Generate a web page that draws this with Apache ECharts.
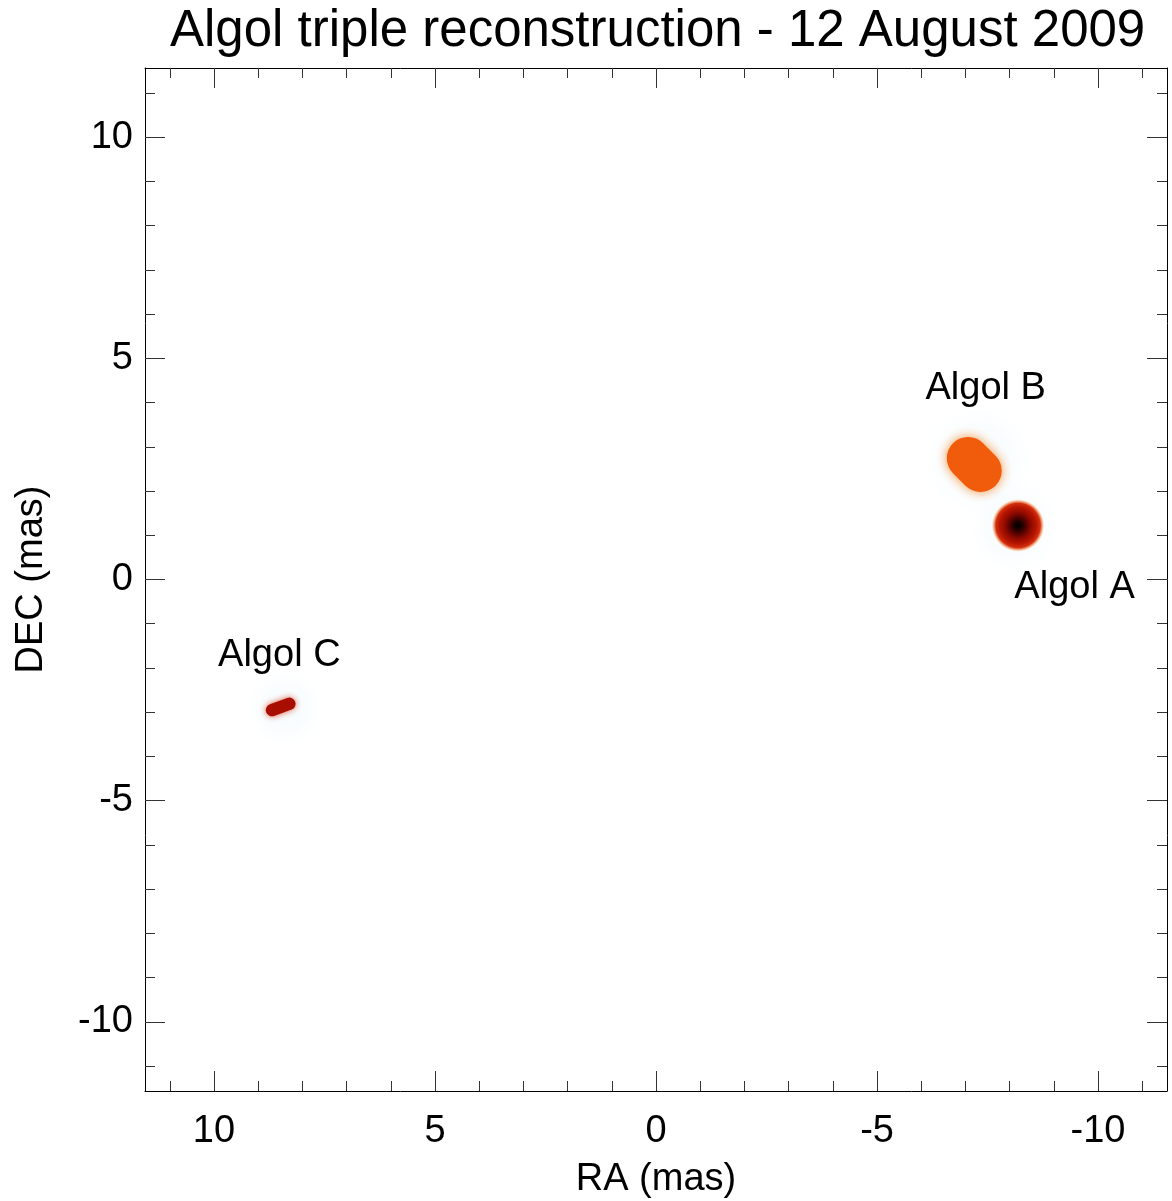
<!DOCTYPE html>
<html>
<head>
<meta charset="utf-8">
<title>Algol triple reconstruction</title>
<script src="https://cdn.jsdelivr.net/npm/echarts@6/dist/echarts.min.js"></script>
<style>
  html, body { margin: 0; padding: 0; background: #fff; }
  #main { width: 1172px; height: 1201px; }
</style>
</head>
<body>
<div id="main"></div>
<script>
// axis range (mas) and ticks
const range = 11.56
const majorTicks = [-10, -5, 0, 5, 10]
const minorTicks = [-11, -9, -8, -7, -6, -4, -3, -2, -1, 1, 2, 3, 4, 6, 7, 8, 9, 11]

// reconstructed sources: position (mas), semi axes (mas), tilt on the image (deg)
const sourceNames = ['Algol A', 'Algol B', 'Algol C']
const sourceRa = [-8.19, -7.2, 8.49]
const sourceDec = [1.22, 2.6, -2.88]
const sourceMajor = [0.6, 0.68, 0.35]
const sourceMinor = [0.6, 0.48, 0.14]
const sourceTilt = [0, -45, 20]

// faint halo around the sources
const haloRa = [-8.1, -7.3, 8.4]
const haloDec = [1.2, 2.7, -2.9]
const haloRadius = [1.1, 1.3, 0.9]

// annotation text
const labelText = ['Algol A', 'Algol B', 'Algol C']
const labelRa = [-9.48, -7.47, 8.51]
const labelDec = [-0.2, 4.3, -1.72]

const font = 'Liberation Sans, Arial, Helvetica, sans-serif'

// Algol A: black core -> dark red -> red rim
const rampA = [[0, '#000000'], [0.12, '#140000'], [0.3, '#500200'], [0.5, '#900a00'], [0.7, '#b81600'], [0.84, '#d43010'], [0.93, 'rgba(245,150,90,0.6)'], [1, 'rgba(255,240,220,0)']]
// flat fills for the elongated ones
const capsuleFill = [null, '#f05c0c', '#a80e00']
const capsuleGlow = [null, 'rgba(248,140,50,0.95)', 'rgba(220,70,40,0.9)']

function radial(stops) {
  return {
    type: 'radial', x: 0.5, y: 0.5, r: 0.5,
    colorStops: stops.map(s => ({ offset: s[0], color: s[1] }))
  }
}

function axisCommon(extra) {
  return Object.assign({
    type: 'value',
    min: -range,
    max: range,
    splitLine: { show: false },
    axisLine: { show: true, onZero: false, lineStyle: { color: '#000', width: 1 } },
    axisLabel: { show: false },
    animation: false
  }, extra)
}

function majorAxis(gridIndex, position, labels, extra) {
  return axisCommon(Object.assign({
    gridIndex,
    position,
    axisTick: { show: true, inside: true, length: 20, customValues: majorTicks, lineStyle: { color: '#333', width: 1 } },
    axisLabel: labels
  }, extra))
}

function minorAxis(gridIndex, position, extra) {
  return axisCommon(Object.assign({
    gridIndex,
    position,
    axisLine: { show: false, onZero: false },
    axisTick: { show: true, inside: true, length: 10, customValues: minorTicks, lineStyle: { color: '#333', width: 1 } }
  }, extra))
}

const tickLabel = { show: true, customValues: majorTicks, fontSize: 38, color: '#000', fontFamily: font }
const nameStyle = { fontSize: 38, color: '#000', fontFamily: font }

const gridBox = { left: 145, right: 5, top: 68, bottom: 110, outerBoundsMode: 'none', containLabel: false }

const chart = echarts.init(document.getElementById('main'), null, { renderer: 'canvas' })

chart.setOption({
  backgroundColor: '#fff',
  animation: false,
  title: {
    text: 'Algol triple reconstruction - 12 August 2009',
    left: 165,
    top: 1,
    textStyle: { fontSize: 51, fontWeight: 'normal', color: '#000', fontFamily: font }
  },
  grid: [gridBox, gridBox],
  xAxis: [
    majorAxis(0, 'bottom', Object.assign({ margin: 22 }, tickLabel), {
      inverse: true,
      name: 'RA (mas)',
      nameLocation: 'middle',
      nameGap: 70,
      nameTextStyle: nameStyle
    }),
    majorAxis(0, 'top', { show: false }, { inverse: true }),
    minorAxis(1, 'bottom', { inverse: true }),
    minorAxis(1, 'top', { inverse: true })
  ],
  yAxis: [
    majorAxis(0, 'left', Object.assign({ margin: 12, padding: [7, 0, 0, 0] }, tickLabel), {
      name: 'DEC (mas)',
      nameLocation: 'middle',
      nameGap: 94,
      nameTextStyle: nameStyle
    }),
    majorAxis(0, 'right', { show: false }, {}),
    minorAxis(1, 'left', {}),
    minorAxis(1, 'right', {})
  ],
  series: [
    {
      name: 'halo',
      type: 'custom',
      xAxisIndex: 0,
      yAxisIndex: 0,
      silent: true,
      clip: true,
      data: haloRa.map((ra, i) => [ra, haloDec[i], haloRadius[i]]),
      renderItem: function(params, api) {
        const c = api.coord([api.value(0), api.value(1)])
        const s = api.size([api.value(2), api.value(2)])
        return {
          type: 'circle',
          x: c[0],
          y: c[1],
          scaleX: s[0] / 50,
          scaleY: s[1] / 50,
          shape: { cx: 0, cy: 0, r: 50 },
          style: {
            fill: radial([[0, 'rgba(228,244,251,0.4)'], [0.6, 'rgba(235,247,252,0.25)'], [1, 'rgba(240,250,255,0)']])
          }
        }
      }
    },
    {
      name: 'sources',
      type: 'custom',
      xAxisIndex: 0,
      yAxisIndex: 0,
      silent: true,
      clip: true,
      data: sourceRa.map((ra, i) => ({
        name: sourceNames[i],
        value: [ra, sourceDec[i], sourceMajor[i], sourceMinor[i], sourceTilt[i]]
      })),
      renderItem: function(params, api) {
        const i = params.dataIndex
        const c = api.coord([api.value(0), api.value(1)])
        const w = api.size([api.value(2), 0])[0] * 2
        const h = api.size([0, api.value(3)])[1] * 2
        const rot = api.value(4) * Math.PI / 180
        if (i === 0) {
          return {
            type: 'circle',
            x: c[0],
            y: c[1],
            scaleX: w / 100,
            scaleY: h / 100,
            shape: { cx: 0, cy: 0, r: 50 },
            style: { fill: radial(rampA) }
          }
        }
        return {
          type: 'rect',
          x: c[0],
          y: c[1],
          rotation: rot,
          shape: { x: -w / 2, y: -h / 2, width: w, height: h, r: h / 2 },
          style: {
            fill: capsuleFill[i],
            shadowBlur: i === 1 ? 11 : 6,
            shadowColor: capsuleGlow[i]
          }
        }
      }
    },
    {
      name: 'labels',
      type: 'scatter',
      xAxisIndex: 0,
      yAxisIndex: 0,
      silent: true,
      symbolSize: 1,
      itemStyle: { color: 'rgba(0,0,0,0)', opacity: 1 },
      label: {
        show: true,
        position: [0, 0],
        align: 'center',
        verticalAlign: 'middle',
        formatter: '{b}',
        fontSize: 38,
        color: '#000',
        opacity: 1,
        textBorderWidth: 0,
        fontFamily: font
      },
      data: labelText.map((t, i) => ({ name: t, value: [labelRa[i], labelDec[i]] }))
    }
  ]
})
</script>
</body>
</html>
